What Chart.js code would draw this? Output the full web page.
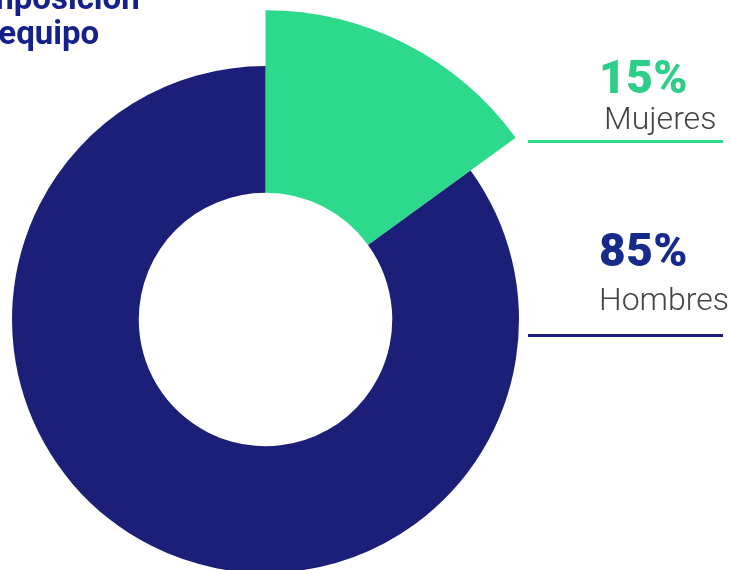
<!DOCTYPE html>
<html>
<head>
<meta charset="utf-8">
<script src="https://cdn.jsdelivr.net/npm/chart.js@4/dist/chart.umd.min.js"></script>
<style>
    html, body { margin: 0; padding: 0; width: 731px; height: 570px; overflow: hidden; background: #fff; font-family: Roboto, "Noto Sans", sans-serif; }
    #wrap { position: absolute; left: 0; top: 0; width: 731px; height: 600px; }
    .txt { position: absolute; line-height: 1; white-space: nowrap; }
    .title { font-weight: 700; font-size: 33px; color: #15208a; left: -55px; }
    .pct { font-weight: 900; font-size: 46px; left: 599px; letter-spacing: 0.5px; }
    .lbl { font-weight: 300; font-size: 32px; color: #444; left: 604px; }
    .rule { position: absolute; left: 528px; width: 195px; height: 3px; }
</style>
</head>
<body>
<div id="wrap"><canvas id="donut"></canvas></div>

<div class="txt title" style="top:-19px">Composición</div>
<div class="txt title" style="top:16px">del equipo</div>

<div class="txt pct" id="pct0" style="top:54px"></div>
<div class="txt lbl" id="lbl0" style="top:102px"></div>
<div class="rule" id="rule0" style="top:140px"></div>

<div class="txt pct" id="pct1" style="top:227px"></div>
<div class="txt lbl" id="lbl1" style="top:283px; left:599px"></div>
<div class="rule" id="rule1" style="top:334px"></div>

<script>
const categories = ["Mujeres", "Hombres"];
const shares = [15, 85];
const sliceColors = ['#2dd98a', '#1b1f78'];
const textColors = ['#2ccf87', '#162a8c'];

// the women slice sticks out further than the ring
const womenRadiusScale = 1.22;

for(let i=0; i<categories.length; i++)
{
    document.getElementById("pct" + i).textContent = shares[i] + "%";
    document.getElementById("pct" + i).style.color = textColors[i];
    document.getElementById("lbl" + i).textContent = categories[i];
    document.getElementById("rule" + i).style.background = sliceColors[i];
}

const bigSlice = {
    id: 'bigSlice',
    afterDatasetsUpdate(chart)
    {
        let arc = chart.getDatasetMeta(0).data[0];
        arc.outerRadius = arc.outerRadius * womenRadiusScale;
    }
};

let ctx = document.getElementById("donut").getContext('2d');

const donutData = {
    labels: categories,
    datasets: [
        {
            data: shares,
            backgroundColor: sliceColors,
            borderWidth: 0,
            hoverOffset: 0,
            offset: 0,
            clip: false
        }
    ]
};

const options = {
    responsive: true,
    maintainAspectRatio: false,
    animation: false,
    events: [],
    cutout: '50%',
    layout: {
        padding: { left: 12, top: 66, right: 212, bottom: 27 }
    },
    plugins: {
        legend: { display: false },
        tooltip: { enabled: false }
    }
};

let donutChart = new Chart(ctx, {
    type: 'doughnut',
    data: donutData,
    options: options,
    plugins: [bigSlice]
});
</script>
</body>
</html>
